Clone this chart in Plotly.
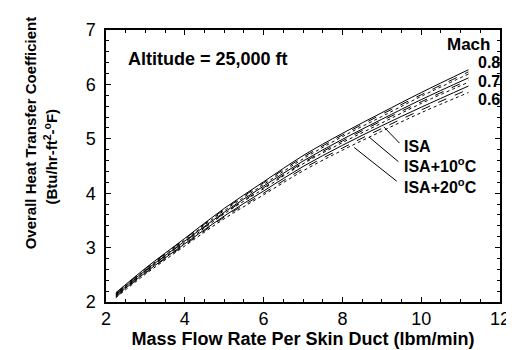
import plotly.graph_objects as go

# Data
mass_flow = [2.25, 3, 4, 5, 6, 7, 8, 9, 10, 11.2]

m08_isa   = [2.17, 2.62, 3.17, 3.72, 4.21, 4.69, 5.10, 5.48, 5.85, 6.27]
m08_isa10 = [2.16, 2.61, 3.16, 3.70, 4.19, 4.66, 5.07, 5.45, 5.81, 6.23]
m08_isa20 = [2.15, 2.60, 3.14, 3.68, 4.16, 4.63, 5.04, 5.41, 5.78, 6.19]
m07_isa   = [2.14, 2.58, 3.12, 3.65, 4.13, 4.59, 4.99, 5.36, 5.72, 6.12]
m07_isa10 = [2.13, 2.57, 3.11, 3.63, 4.10, 4.56, 4.96, 5.33, 5.68, 6.08]
m07_isa20 = [2.12, 2.56, 3.09, 3.62, 4.08, 4.54, 4.93, 5.29, 5.65, 6.04]
m06_isa   = [2.11, 2.54, 3.07, 3.58, 4.04, 4.49, 4.88, 5.24, 5.58, 5.97]
m06_isa10 = [2.09, 2.53, 3.05, 3.56, 4.00, 4.45, 4.83, 5.19, 5.53, 5.91]
m06_isa20 = [2.08, 2.51, 3.03, 3.53, 3.97, 4.41, 4.79, 5.14, 5.48, 5.85]

series = [
    ("M0.8 ISA", m08_isa, "solid"),
    ("M0.8 ISA+10", m08_isa10, "dash"),
    ("M0.8 ISA+20", m08_isa20, "dot"),
    ("M0.7 ISA", m07_isa, "solid"),
    ("M0.7 ISA+10", m07_isa10, "dash"),
    ("M0.7 ISA+20", m07_isa20, "dot"),
    ("M0.6 ISA", m06_isa, "solid"),
    ("M0.6 ISA+10", m06_isa10, "dash"),
    ("M0.6 ISA+20", m06_isa20, "dot"),
]

mach_labels = ["0.8", "0.7", "0.6"]
mach_label_y = [6.40, 6.06, 5.72]
temp_labels = ["ISA", "ISA+10<sup>o</sup>C", "ISA+20<sup>o</sup>C"]
temp_label_y = [4.86, 4.51, 4.14]
leader_start = [(9.05, 5.22), (8.68, 5.03), (8.30, 4.84)]
leader_end = [(9.45, 4.92), (9.42, 4.58), (9.38, 4.22)]

FONT = "Liberation Sans, Arial, Helvetica, sans-serif"
BIG = 18
LAB = 16

fig = go.Figure()
for name, vals, dash in series:
    fig.add_trace(go.Scatter(
        x=mass_flow, y=vals, mode="lines", name=name,
        line=dict(color="black", width=1, dash=dash, shape="spline"),
        showlegend=False,
    ))

annotations = [
    dict(x=2.5, y=6.47, xref="x", yref="y", text="<b>Altitude = 25,000 ft</b>",
         showarrow=False, xanchor="left", yanchor="middle",
         font=dict(family=FONT, size=BIG, color="black")),
    dict(x=11.78, y=6.74, xref="x", yref="y", text="<b>Mach</b>",
         showarrow=False, xanchor="right", yanchor="middle", borderpad=0,
         font=dict(family=FONT, size=17, color="black")),
]
for lab, yy in zip(mach_labels, mach_label_y):
    annotations.append(dict(x=12.0, y=yy, xref="x", yref="y", text="<b>" + lab + "</b>",
                            showarrow=False, xanchor="right", yanchor="middle", xshift=1,
                            borderpad=0,
                            font=dict(family=FONT, size=LAB, color="black")))
for lab, yy in zip(temp_labels, temp_label_y):
    annotations.append(dict(x=9.55, y=yy, xref="x", yref="y", text="<b>" + lab + "</b>",
                            showarrow=False, xanchor="left", yanchor="middle", borderpad=0,
                            font=dict(family=FONT, size=LAB, color="black")))

annotations += [
    dict(x=0, y=0.62, xref="paper", yref="paper", text="<b>Overall Heat Transfer Coefficient</b>",
         textangle=-90, showarrow=False, xanchor="center", yanchor="middle", xshift=-76,
         font=dict(family=FONT, size=15, color="black")),
    dict(x=0, y=0.535, xref="paper", yref="paper",
         text="<b>(Btu/hr-ft<sup>2</sup>-<sup>o</sup>F)</b>",
         textangle=-90, showarrow=False, xanchor="center", yanchor="middle", xshift=-56,
         font=dict(family=FONT, size=15, color="black")),
]

shapes = []
for (x0, y0), (x1, y1) in zip(leader_start, leader_end):
    shapes.append(dict(type="line", x0=x0, y0=y0, x1=x1, y1=y1, xref="x", yref="y",
                       line=dict(color="black", width=1)))

fig.update_layout(
    width=514, height=350,
    margin=dict(l=98, r=20, t=16, b=54),
    plot_bgcolor="white", paper_bgcolor="white",
    font=dict(family=FONT, color="black"),
    annotations=annotations, shapes=shapes,
    xaxis=dict(
        range=[2, 12], tickvals=[2, 4, 6, 8, 10, 12], ticks="inside", ticklen=5,
        tickcolor="black", showline=True, linecolor="black", linewidth=1.5, mirror="ticks",
        showgrid=False, zeroline=False, ticklabelstandoff=0,
        minor=dict(dtick=0.5, ticks="inside", ticklen=3, tickcolor="black", showgrid=False),
        tickfont=dict(family=FONT, size=18, color="black"),
        title=dict(text="<b>Mass Flow Rate Per Skin Duct (lbm/min)</b>",
                   font=dict(family=FONT, size=18, color="black"), standoff=4),
    ),
    yaxis=dict(
        range=[2, 7], tickvals=[2, 3, 4, 5, 6, 7], ticks="inside", ticklen=5,
        tickcolor="black", showline=True, linecolor="black", linewidth=1.5, mirror="ticks",
        showgrid=False, zeroline=False, ticklabelstandoff=5,
        minor=dict(dtick=0.2, ticks="inside", ticklen=3, tickcolor="black", showgrid=False),
        tickfont=dict(family=FONT, size=18, color="black"),
    ),
)

fig.write_html("out.html")
